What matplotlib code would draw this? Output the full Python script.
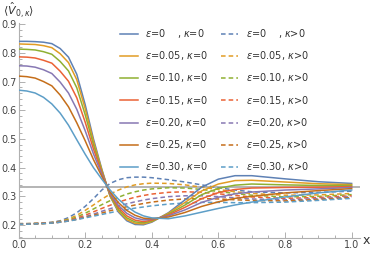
import matplotlib
matplotlib.use('Agg')
import matplotlib.pyplot as plt
from matplotlib.lines import Line2D

# sample positions along x (denser where the curves bend sharply)
x = [0, 0.025, 0.05, 0.075, 0.1, 0.125, 0.15, 0.175, 0.2, 0.225, 0.25, 0.275, 0.3, 0.325,
     0.35, 0.375, 0.4, 0.45, 0.5, 0.55, 0.6, 0.65, 0.7, 0.8, 0.9, 1.0]

eps_labels = ['0    ', '0.05', '0.10', '0.15', '0.20', '0.25', '0.30']

# kappa = 0 (solid)
k0_e000 = [0.840, 0.840, 0.839, 0.837, 0.832, 0.815, 0.785, 0.725, 0.620, 0.500, 0.395, 0.300,
           0.245, 0.215, 0.202, 0.201, 0.210, 0.243, 0.288, 0.332, 0.360, 0.372, 0.372, 0.361,
           0.351, 0.345]
k0_e005 = [0.831, 0.830, 0.829, 0.825, 0.818, 0.797, 0.766, 0.706, 0.606, 0.492, 0.392, 0.301,
           0.249, 0.219, 0.206, 0.204, 0.212, 0.241, 0.279, 0.319, 0.343, 0.355, 0.356, 0.350,
           0.344, 0.341]
k0_e010 = [0.813, 0.812, 0.810, 0.804, 0.795, 0.770, 0.737, 0.678, 0.585, 0.480, 0.388, 0.303,
           0.254, 0.225, 0.211, 0.208, 0.214, 0.238, 0.270, 0.306, 0.328, 0.339, 0.343, 0.340,
           0.338, 0.338]
k0_e015 = [0.786, 0.785, 0.782, 0.774, 0.764, 0.736, 0.701, 0.643, 0.559, 0.465, 0.383, 0.307,
           0.261, 0.232, 0.217, 0.212, 0.217, 0.235, 0.262, 0.292, 0.313, 0.324, 0.329, 0.331,
           0.332, 0.334]
k0_e020 = [0.755, 0.754, 0.750, 0.741, 0.728, 0.698, 0.660, 0.603, 0.529, 0.448, 0.377, 0.310,
           0.268, 0.241, 0.225, 0.218, 0.220, 0.232, 0.253, 0.279, 0.297, 0.309, 0.315, 0.322,
           0.326, 0.331]
k0_e025 = [0.719, 0.717, 0.712, 0.700, 0.685, 0.653, 0.612, 0.556, 0.494, 0.428, 0.370, 0.315,
           0.278, 0.251, 0.234, 0.224, 0.222, 0.228, 0.244, 0.265, 0.281, 0.293, 0.300, 0.312,
           0.320, 0.327]
k0_e030 = [0.670, 0.667, 0.660, 0.645, 0.622, 0.590, 0.548, 0.497, 0.447, 0.400, 0.360, 0.322,
           0.290, 0.265, 0.245, 0.232, 0.225, 0.222, 0.232, 0.245, 0.258, 0.270, 0.280, 0.298,
           0.312, 0.322]

# kappa > 0 (dashed)
kp_e000 = [0.205, 0.205, 0.206, 0.207, 0.210, 0.215, 0.226, 0.243, 0.265, 0.292, 0.322, 0.345,
           0.358, 0.365, 0.367, 0.367, 0.365, 0.358, 0.350, 0.340, 0.330, 0.322, 0.316, 0.312,
           0.314, 0.318]
kp_e005 = [0.205, 0.205, 0.206, 0.207, 0.209, 0.213, 0.221, 0.234, 0.251, 0.270, 0.290, 0.308,
           0.322, 0.333, 0.340, 0.344, 0.346, 0.345, 0.340, 0.332, 0.324, 0.316, 0.310, 0.304,
           0.305, 0.310]
kp_e010 = [0.204, 0.204, 0.205, 0.206, 0.208, 0.212, 0.218, 0.228, 0.241, 0.256, 0.271, 0.285,
           0.297, 0.308, 0.316, 0.322, 0.326, 0.330, 0.329, 0.324, 0.317, 0.310, 0.304, 0.298,
           0.300, 0.306]
kp_e015 = [0.204, 0.204, 0.205, 0.206, 0.208, 0.211, 0.216, 0.224, 0.234, 0.246, 0.258, 0.269,
           0.280, 0.289, 0.297, 0.303, 0.308, 0.314, 0.316, 0.314, 0.309, 0.303, 0.298, 0.293,
           0.296, 0.302]
kp_e020 = [0.204, 0.204, 0.205, 0.206, 0.207, 0.210, 0.215, 0.221, 0.229, 0.238, 0.248, 0.257,
           0.266, 0.274, 0.281, 0.287, 0.292, 0.299, 0.302, 0.302, 0.299, 0.295, 0.291, 0.288,
           0.292, 0.299]
kp_e025 = [0.203, 0.203, 0.204, 0.205, 0.207, 0.210, 0.214, 0.220, 0.227, 0.234, 0.242, 0.250,
           0.257, 0.264, 0.270, 0.275, 0.280, 0.287, 0.291, 0.292, 0.291, 0.288, 0.286, 0.284,
           0.289, 0.296]
kp_e030 = [0.203, 0.203, 0.204, 0.205, 0.207, 0.210, 0.214, 0.219, 0.225, 0.231, 0.237, 0.243,
           0.249, 0.254, 0.259, 0.263, 0.267, 0.273, 0.277, 0.279, 0.279, 0.278, 0.278, 0.280,
           0.286, 0.293]

solid = [k0_e000, k0_e005, k0_e010, k0_e015, k0_e020, k0_e025, k0_e030]
dashed = [kp_e000, kp_e005, kp_e010, kp_e015, kp_e020, kp_e025, kp_e030]

colors = ['#5E81B5', '#E19C24', '#8FB032', '#EB6235', '#8778B3', '#C56E1A', '#5D9EC7']

fig = plt.figure(figsize=(3.74, 2.57), dpi=100)
ax = fig.add_axes([0.0495, 0.074, 0.913, 0.8366])

ax.axhline(1/3, color='#a8a8a8', lw=1.2, zorder=1)

for ys, c in zip(dashed, colors):
    ax.plot(x, ys, color=c, lw=1.1, ls=(0, (3, 2)), zorder=2)
for ys, c in zip(solid, colors):
    ax.plot(x, ys, color=c, lw=1.1, zorder=3)

ax.set_xlim(0, 1.025)
ax.set_ylim(0.155, 0.904)
ax.set_xticks([0, 0.2, 0.4, 0.6, 0.8, 1.0])
ax.set_xticks([i * 0.05 for i in range(21)], minor=True)
ax.set_yticks([0.2, 0.3, 0.4, 0.5, 0.6, 0.7, 0.8, 0.9])
ax.set_yticks([0.16 + i * 0.02 for i in range(38)], minor=True)
ax.set_xticklabels(['0.0', '0.2', '0.4', '0.6', '0.8', '1.0'])
ax.set_yticklabels(['0.2', '0.3', '0.4', '0.5', '0.6', '0.7', '0.8', '0.9'])

for s in ['top', 'right']:
    ax.spines[s].set_visible(False)
for s in ['left', 'bottom']:
    ax.spines[s].set_color('#b0b0b0')
    ax.spines[s].set_linewidth(0.8)
ax.tick_params(which='both', direction='in', color='#b0b0b0', width=0.7,
               labelsize=7, labelcolor='#444444')
ax.tick_params(which='major', length=4, pad=1.5)
ax.tick_params(which='minor', length=2.2)

fig.text(366 / 374, 1 - 240 / 257, 'x', fontsize=9, color='#333333', ha='center', va='center')
fig.text(3 / 374, 1 - 1 / 257, r'$\langle\hat{V}_{0,\kappa}\rangle$', fontsize=8,
         color='#333333', ha='left', va='top')

handles = []
labels = []
for c, e in zip(colors, eps_labels):
    handles.append(Line2D([], [], color=c, lw=1.1))
    labels.append(r'$\epsilon$=' + e + r', $\kappa$=0')
for c, e in zip(colors, eps_labels):
    handles.append(Line2D([], [], color=c, lw=1.1, ls=(0, (3, 2))))
    labels.append(r'$\epsilon$=' + e + r', $\kappa$>0')

leg = fig.legend(handles, labels, ncol=2, loc='upper left',
                 bbox_to_anchor=(120 / 374, 1 - 27 / 257), borderpad=0, borderaxespad=0,
                 frameon=False, fontsize=7, handlelength=1.8, handletextpad=0.8,
                 columnspacing=1.3, labelspacing=0.95, labelcolor='#333333')

fig.savefig('out.png', dpi=100)
